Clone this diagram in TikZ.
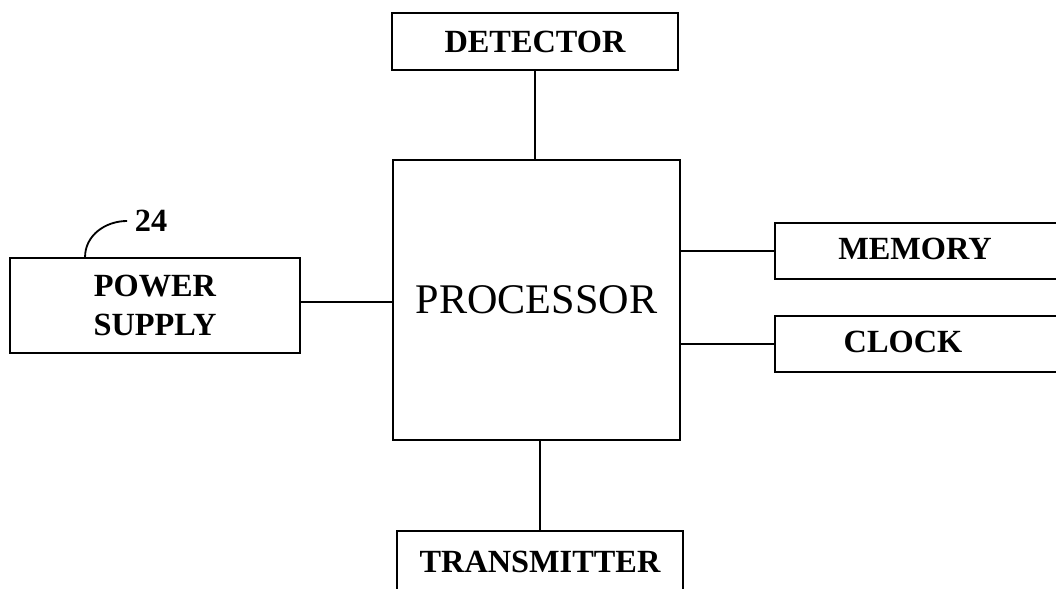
\documentclass[tikz,border=0pt]{standalone}
\usepackage{fontspec}
\setmainfont{Liberation Serif}
\usetikzlibrary{positioning}
\tikzset{
  blk/.style={draw,line width=1.3pt,inner sep=0pt,align=center,
    font=\fontsize{23}{28}\selectfont\bfseries},
  wire/.style={line width=1.3pt}
}
\begin{document}
\begin{tikzpicture}[x=0.025cm,y=-0.025cm]
  \useasboundingbox (0,0) rectangle (1056,589);
  \clip (0,0) rectangle (1056,589);
  % blocks
  \node[blk,minimum width=7.15cm,minimum height=1.425cm] (det) at (535,41.5) {DETECTOR};
  \node[blk,minimum width=7.175cm,minimum height=7cm,
    font=\fontsize{30}{36}\selectfont] (proc) at (536.5,300) {PROCESSOR};
  \node[blk,minimum width=7.25cm,minimum height=2.375cm] (power) at (155,305.5) {POWER\\SUPPLY};
  \node[blk,minimum width=7.375cm,minimum height=1.4cm] (mem) at (922.5,251) {};
  \node[blk,minimum width=7.375cm,minimum height=1.4cm] (clk) at (922.5,344) {};
  \node[font=\fontsize{23}{28}\selectfont\bfseries] (memtxt) at (915,249) {MEMORY};
  \node[font=\fontsize{23}{28}\selectfont\bfseries] (clktxt) at (903,342) {CLOCK};
  \node[blk,minimum width=7.15cm,minimum height=1.75cm,anchor=north] (trans) at (540,530) {};
  \node[font=\fontsize{23}{28}\selectfont\bfseries] (transtxt) at (540,562) {TRANSMITTER};
  % connectors
  \draw[wire] (det.south) -- (det.south |- proc.north);
  \coordinate (pwout) at ([yshift=0.09cm]power.east);
  \draw[wire] (pwout) -- (pwout -| proc.west);
  \draw[wire] (mem.west) -- (mem.west -| proc.east);
  \draw[wire] (clk.west) -- (clk.west -| proc.east);
  \draw[wire] (trans.north) -- (trans.north |- proc.south);
  % reference numeral
  \node[font=\fontsize{23}{28}\selectfont\bfseries] (num) at (151,221) {24};
  \coordinate (lead) at ([xshift=76*0.025cm]power.north west);
  \draw[wire] (lead) to[out=90,in=180] ([xshift=-2pt]num.west);
\end{tikzpicture}
\end{document}
